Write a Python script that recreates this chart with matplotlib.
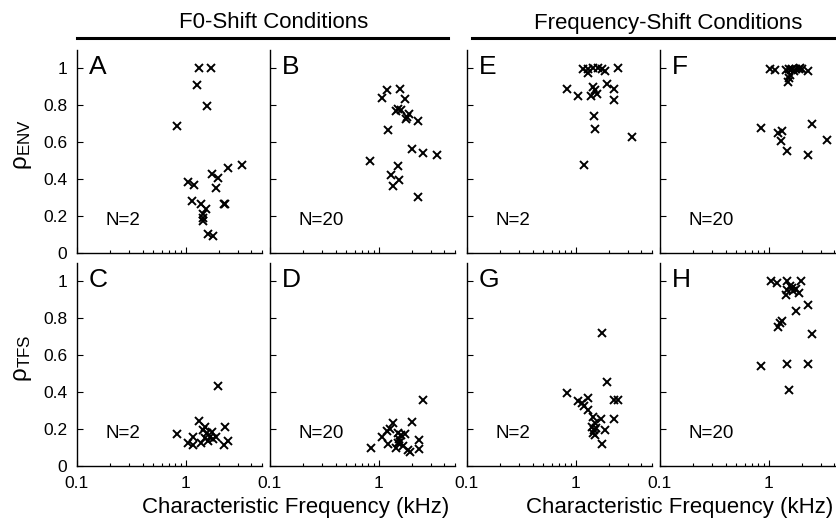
import matplotlib
matplotlib.use('Agg')
import matplotlib.pyplot as plt
from matplotlib.ticker import LogLocator, NullFormatter, FixedLocator, FixedFormatter
from matplotlib.lines import Line2D

plt.rcParams['font.family'] = ['Liberation Sans', 'DejaVu Sans']

# characteristic frequency (kHz) and correlation values
a_cf = [1.32, 1.69, 1.27, 1.55, 0.82, 1.05, 1.18, 1.72, 1.98, 2.44, 3.31, 1.88, 1.15, 1.39, 1.52, 2.25, 2.31, 1.44, 1.44, 1.43, 1.60, 1.76]
a_rho = [1.0, 1.0, 0.912, 0.796, 0.688, 0.384, 0.371, 0.427, 0.407, 0.458, 0.476, 0.35, 0.281, 0.263, 0.238, 0.263, 0.267, 0.209, 0.188, 0.175, 0.103, 0.092]

b_cf = [1.19, 1.06, 1.57, 1.74, 1.49, 1.44, 1.60, 1.91, 1.82, 1.78, 2.31, 1.22, 2.02, 2.54, 3.44, 0.83, 1.49, 1.29, 1.54, 1.34, 2.31]
b_rho = [0.881, 0.842, 0.886, 0.836, 0.782, 0.768, 0.773, 0.751, 0.737, 0.728, 0.714, 0.665, 0.566, 0.544, 0.533, 0.497, 0.472, 0.422, 0.393, 0.364, 0.304]

c_cf = [1.98, 0.83, 1.32, 2.28, 1.17, 1.05, 1.17, 1.39, 1.44, 1.55, 1.66, 1.78, 1.60, 1.91, 1.72, 1.49, 2.44, 2.22, 1.49]
c_rho = [0.435, 0.174, 0.246, 0.214, 0.156, 0.123, 0.114, 0.123, 0.196, 0.178, 0.159, 0.145, 0.138, 0.156, 0.186, 0.151, 0.136, 0.114, 0.214]

d_cf = [2.54, 0.84, 1.34, 2.02, 1.19, 1.06, 1.27, 1.22, 1.49, 1.60, 1.74, 1.54, 1.49, 1.57, 1.44, 1.85, 1.95, 2.33, 2.33, 1.65]
d_rho = [0.359, 0.096, 0.235, 0.237, 0.192, 0.156, 0.2, 0.12, 0.181, 0.168, 0.174, 0.145, 0.123, 0.132, 0.096, 0.087, 0.076, 0.141, 0.091, 0.109]

e_cf = [1.17, 1.30, 1.44, 1.58, 1.72, 2.44, 1.28, 1.87, 0.82, 1.04, 1.44, 1.37, 1.57, 1.49, 1.95, 2.24, 2.24, 1.47, 1.49, 3.29, 1.19]
e_rho = [0.998, 0.998, 1.0, 1.0, 0.998, 1.0, 0.976, 0.984, 0.89, 0.849, 0.899, 0.85, 0.863, 0.881, 0.917, 0.89, 0.831, 0.742, 0.674, 0.629, 0.479]

f_cf = [1.02, 1.15, 1.43, 1.53, 1.60, 1.64, 1.70, 1.77, 1.89, 1.95, 2.03, 2.29, 1.56, 1.53, 1.50, 0.84, 1.20, 1.33, 1.28, 2.48, 3.41, 1.46, 2.29]
f_rho = [0.998, 0.99, 0.989, 0.995, 0.99, 0.998, 0.985, 0.998, 0.998, 1.0, 0.995, 0.985, 0.966, 0.948, 0.926, 0.678, 0.652, 0.659, 0.609, 0.701, 0.611, 0.551, 0.53]

g_cf = [1.74, 1.95, 0.82, 1.30, 1.04, 1.13, 1.19, 1.28, 2.24, 2.44, 2.24, 1.69, 1.44, 1.49, 1.42, 1.46, 1.52, 1.44, 1.85, 1.50, 1.75]
g_rho = [0.721, 0.453, 0.398, 0.368, 0.35, 0.341, 0.326, 0.304, 0.355, 0.359, 0.254, 0.254, 0.265, 0.232, 0.214, 0.196, 0.205, 0.181, 0.196, 0.168, 0.12]

h_cf = [1.05, 1.18, 1.48, 1.99, 1.56, 1.64, 1.77, 1.48, 1.43, 1.89, 1.67, 2.29, 1.77, 1.33, 1.26, 1.20, 2.48, 0.84, 1.48, 2.29, 1.53]
h_rho = [1.0, 0.993, 1.0, 1.0, 0.978, 0.966, 0.96, 0.953, 0.929, 0.938, 0.947, 0.875, 0.839, 0.784, 0.775, 0.754, 0.716, 0.543, 0.553, 0.554, 0.413]

letters = ['A', 'B', 'E', 'F', 'C', 'D', 'G', 'H']
n_labels = ['N=2', 'N=20', 'N=2', 'N=20', 'N=2', 'N=20', 'N=2', 'N=20']
yticks = [0, 0.2, 0.4, 0.6, 0.8, 1]
ytick_labels = ['0', '0.2', '0.4', '0.6', '0.8', '1']

W, H = 837, 520
fig = plt.figure(figsize=(W / 100, H / 100), dpi=100)

lefts = [77, 270, 467, 660]
tops = [50, 263]
aw, ah = 185, 203

data = [(a_cf, a_rho), (b_cf, b_rho), (e_cf, e_rho), (f_cf, f_rho),
        (c_cf, c_rho), (d_cf, d_rho), (g_cf, g_rho), (h_cf, h_rho)]

for i, (cf, rho) in enumerate(data):
    row, col = divmod(i, 4)
    l = lefts[col] / W
    b = 1 - (tops[row] + ah) / H
    ax = fig.add_axes([l, b, aw / W, ah / H])
    ax.plot(cf, rho, 'x', color='black', markersize=5.5, markeredgewidth=1.4)
    ax.set_xscale('log')
    ax.set_xlim(0.1, 5)
    ax.set_ylim(0, 1.1)
    for s in ['top', 'right']:
        ax.spines[s].set_visible(False)
    for s in ['left', 'bottom']:
        ax.spines[s].set_linewidth(1.0)
    ax.xaxis.set_major_locator(FixedLocator([0.1, 1]))
    ax.xaxis.set_minor_locator(LogLocator(base=10, subs=range(2, 10)))
    ax.xaxis.set_minor_formatter(NullFormatter())
    ax.set_yticks(yticks)
    ax.tick_params(direction='in', which='major', length=4, width=0.8, labelsize=12.5, pad=7)
    ax.tick_params(direction='in', which='minor', length=2.5, width=0.8)
    if col == 0:
        ax.set_yticklabels(ytick_labels)
    else:
        ax.set_yticklabels([])
    if row == 1:
        ax.xaxis.set_major_formatter(FixedFormatter(['0.1', '1']))
    else:
        ax.set_xticklabels([])
    ax.text(0.065, 0.915, letters[i], transform=ax.transAxes, fontsize=19,
            ha='left', va='center')
    ax.text(0.155, 0.16, n_labels[i], transform=ax.transAxes, fontsize=13.5,
            ha='left', va='center')

# condition headings with rules
fig.text(274 / W, 1 - 23 / H, 'F0-Shift Conditions', fontsize=16, ha='center', va='center')
fig.text(668 / W, 1 - 23 / H, 'Frequency-Shift Conditions', fontsize=16, ha='center', va='center')
fig.add_artist(Line2D([77 / W, 448 / W], [1 - 38 / H, 1 - 38 / H], color='black', linewidth=2.2))
fig.add_artist(Line2D([472 / W, 1.0], [1 - 38 / H, 1 - 38 / H], color='black', linewidth=2.2))

# axis labels
fig.text(23 / W, 1 - 145 / H, r'$\mathregular{ρ_{ENV}}$', fontsize=17.5, rotation=90,
         ha='center', va='center')
fig.text(23 / W, 1 - 358 / H, r'$\mathregular{ρ_{TFS}}$', fontsize=17.5, rotation=90,
         ha='center', va='center')
fig.text(296 / W, 1 - 507 / H, 'Characteristic Frequency (kHz)', fontsize=16,
         ha='center', va='center')
fig.text(680 / W, 1 - 507 / H, 'Characteristic Frequency (kHz)', fontsize=16,
         ha='center', va='center')

fig.savefig('out.png', dpi=100)
